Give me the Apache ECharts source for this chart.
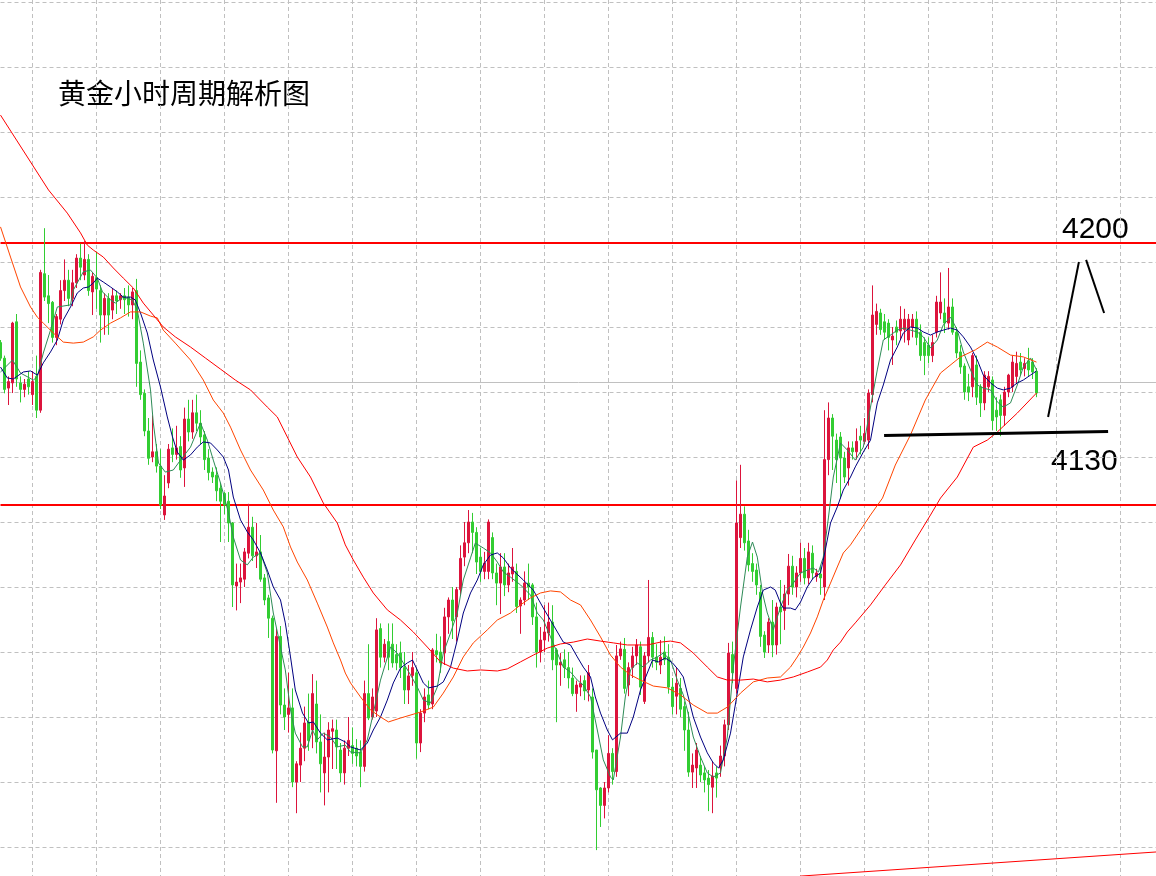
<!DOCTYPE html>
<html>
<head>
<meta charset="utf-8">
<style>
html, body { margin: 0; padding: 0; background: #fff; width: 1156px; height: 876px; overflow: hidden; position: relative; }
#chart { position: absolute; left: 0; top: -63px; width: 1160px; height: 975px; }
</style>
<script src="https://cdn.jsdelivr.net/npm/echarts@6/dist/echarts.min.js"></script>
</head>
<body>
<div id="chart"></div>
<script>
var title = '黄金小时周期解析图';
var slots = 290;

// hourly candles: [open, close, low, high]
var candles = [
  [4169,4163,4162,4170],[4163,4151,4149.5,4164],[4151.5,4154,4145,4156],[4153.5,4176.5,4149.6,4177],[4177,4155,4152,4180],
  [4153.5,4151,4146,4156],[4151,4153,4148,4155],[4155,4152,4149,4158],[4149,4154,4145,4158],[4156,4143,4140,4164],
  [4143,4196,4142,4197],[4195.5,4186.5,4185,4213],[4187,4184,4176.5,4195],[4184.5,4171,4169,4185],[4171,4179,4168,4180],
  [4178,4189,4176,4193],[4189,4193,4185,4201],[4193,4186,4183,4197],[4186,4192,4183,4197],[4192,4201.5,4190,4203],
  [4201.5,4198,4193,4207],[4195,4201,4193,4208],[4201,4189,4187,4203],[4188.5,4194.5,4179.6,4196],[4194,4189.6,4182,4204],
  [4189,4179.6,4169,4191],[4179.6,4186,4172,4188],[4186,4179.6,4172,4188],[4181.5,4187,4178,4190],[4187,4185,4180,4189],
  [4185.5,4187,4182,4188],[4187,4185.5,4180,4190],[4186.5,4183.5,4179,4191],[4183.5,4188.5,4178,4190],[4189,4161,4152,4193.5],
  [4161.5,4149,4147,4166],[4149.5,4135,4133,4151],[4135,4124.5,4122,4140],[4125,4127,4123,4141],[4127,4121.5,4119,4130],
  [4121.5,4106.5,4105,4128],[4102.7,4110,4100.8,4118],[4115,4128,4113,4130],[4128.5,4126,4123,4136],[4126,4128.5,4124,4137],
  [4129,4120,4117,4133],[4120.8,4139.6,4113.5,4144],[4139.6,4134.6,4131,4147],[4134.6,4142,4132,4147],[4142,4138,4135,4149],
  [4138,4132.7,4130,4143],[4133.5,4124,4120,4135],[4124.6,4119,4116,4128],[4119.2,4117.3,4115,4121],[4118,4112,4108,4121],
  [4113,4108,4092.3,4115],[4111,4106.5,4103,4111.5],[4108,4099.6,4092.3,4111.5],[4099.6,4075.8,4067.3,4100],[4075.4,4076.9,4066,4084],
  [4076.9,4078.5,4068.8,4084],[4078,4088.5,4075,4090],[4088,4098,4086,4107],[4098,4087,4085,4102],[4087,4088.5,4082.3,4099.6],
  [4088.5,4078,4077,4095],[4078.5,4070,4068,4080],[4070.8,4063,4055.4,4072],[4063,4012.3,4011,4064],[4012,4056,3992,4059],
  [4056,4029.6,4026,4060],[4029.6,4025,4020,4036],[4026,4028.5,4019,4042],[4028.5,4000,3998,4036],[4000,4007,3988,4008],
  [4006.5,4013,4000,4019],[4013,4022.7,4008,4029],[4023,4016,4012,4034],[4020,4034,4013,4041.5],[4030,4015.4,4011,4039],
  [4015.4,4007,3996,4026],[4003.5,4009.6,3991,4019],[4009.6,4020,3996,4023],[4019.5,4020.5,4005,4024],[4020,4013.5,4005,4024],
  [4012.3,4003.5,4000,4015],[4003.5,4013,3999,4016],[4013,4016,4010,4025],[4014,4011,4007,4021],[4013,4010,4006,4016.5],
  [4011.5,4006,3998,4016],[4006,4034,4004,4039],[4034,4024.6,4023.8,4053],[4025,4032.7,4024,4036],[4027.3,4058.5,4025,4063],
  [4059,4048,4044,4061],[4048,4053,4046,4055],[4054,4048,4043,4061],[4053,4045.8,4044,4061],[4049,4045.8,4043,4053],
  [4049.6,4044,4040,4054],[4044,4035.4,4030,4050],[4035.4,4040.8,4030,4045],[4041,4044,4037,4050],[4042,4015,4009,4044],
  [4015,4026.5,4011.5,4028],[4026.5,4032.7,4023,4036],[4033.5,4029.6,4028,4039],[4030,4050.8,4028,4051.5],[4050.5,4049,4046,4057],
  [4050,4045.8,4042,4056],[4049.6,4063.5,4045,4067],[4063.5,4070,4057,4071],[4070,4062,4055,4075],[4063.5,4074,4054,4075],
  [4074,4086,4072,4091],[4086.5,4092,4083,4100],[4092,4100,4088,4104.6],[4100,4096,4088,4103.5],[4096,4084.6,4080,4098],
  [4086.5,4081,4077,4090],[4081,4084.2,4078,4088.5],[4081,4100,4078,4101],[4094,4080.4,4078,4096],[4080.4,4076.5,4068,4084],
  [4076.5,4082.7,4064.6,4088],[4082.7,4075.8,4071.5,4088],[4075.8,4080.4,4073,4084],[4080,4082.7,4077,4090],[4081,4067.5,4065,4084],
  [4067.7,4070,4057,4071],[4070,4076.5,4068,4081],[4076.5,4075,4070,4084],[4075.8,4063.5,4060.4,4076.5],[4063.5,4050,4044,4069],
  [4050,4054.6,4046,4059.6],[4054.6,4057.7,4050,4068],[4057.3,4061.5,4054,4069],[4061.5,4047,4043,4068],[4050.8,4045,4023,4051.5],
  [4045,4046,4037,4049.6],[4047,4044,4040,4051],[4044,4040,4036,4050],[4040,4034,4033,4044],[4034,4037.3,4027,4039],
  [4036.5,4038,4033,4041],[4039,4035,4031.5,4041],[4035.4,4042,4031,4045],[4032.7,4011.5,4009,4036],[4012.3,3997,3973.8,4012.3],
  [3997.7,3991,3982.7,3998],[3991,3997.7,3986,4000],[3997.7,4011,3996,4018],[4011,4004,3999,4013],[4004,4048.5,4002,4052.7],
  [4048.5,4051.2,4047,4054],[4051,4036,4034,4055.4],[4037.3,4044,4033,4046],[4044,4048.5,4040,4052],[4048.5,4052.7,4045,4055],
  [4052,4036.5,4033.5,4054],[4031,4048.5,4030,4050],[4048.5,4055.6,4046,4077.7],[4055.6,4048,4044,4057.7],[4048,4046,4043,4053],
  [4045,4048,4041.5,4054.6],[4050,4047,4045,4056],[4048,4036.5,4034,4053],[4036.5,4029,4026,4040],[4033,4038,4026,4044],
  [4036,4028,4025,4040],[4029,4020,4012,4031],[4020,4003.8,4002,4027],[4003.8,4006.5,3997.7,4011],[4005.4,4012.3,3997.7,4015],
  [4006.5,4002.7,4000,4010],[4003.5,4000.8,3996,4006],[4001.5,3999,3988.8,4004.6],[3998,4002.3,3988,4008],[4003.5,4001.5,3994,4006],
  [4005.4,4010,4002,4014],[4010,4022,4006,4024],[4022,4049.6,4020,4053.5],[4049,4042,4038,4054],[4036,4099.6,4034,4116],
  [4094,4103,4090,4122],[4103,4092,4089,4106],[4092.7,4083.5,4081,4097],[4084,4081,4077,4088],[4081.5,4075.8,4072,4084],
  [4073,4056,4052,4075.8],[4056.5,4050,4047.7,4058],[4052.7,4061.5,4049.6,4063],[4061.5,4052.7,4048,4070],[4052.7,4067.3,4049,4069],
  [4067.3,4065.4,4053,4077.7],[4066,4072.3,4058.5,4075.8],[4072.3,4083,4068,4087.7],[4083,4075,4072,4087],[4075,4080.4,4071,4083],
  [4080.4,4086,4077,4092],[4086,4078.5,4076,4090],[4078.5,4088.5,4076,4092],[4088,4080.4,4078,4091],[4079,4080.4,4077,4082],
  [4080,4078.5,4072,4083],[4075,4124,4070,4143],[4124,4140,4118,4146],[4140,4133,4120,4141.5],[4131.5,4124,4115,4134],
  [4132.7,4124.6,4109,4134.6],[4124.6,4117.3,4115,4127],[4120.8,4128.5,4114,4131],[4128.5,4127,4124,4131],[4127,4131,4124,4136],
  [4133,4131.5,4126,4137],[4131,4134,4130,4140],[4131.5,4149.6,4128,4151],[4149,4179.6,4146,4191],[4176,4181,4172,4184],
  [4180.4,4174,4172,4182],[4177,4173,4170,4180],[4176.5,4171,4166,4178],[4170,4171.5,4160.4,4175],[4175,4173,4168,4177.5],
  [4173.5,4178,4170,4183],[4174,4178,4169,4182],[4170,4178,4168,4180],[4175,4178,4171,4180],[4178,4171,4168,4181],
  [4173,4164,4162,4176],[4169,4164,4156.5,4171],[4168,4164,4161,4171],[4164,4169,4161.5,4172],[4173,4184.6,4171,4187],
  [4180.4,4184.6,4178,4196],[4180.4,4176.5,4172.7,4186],[4176.5,4182.7,4174,4197.7],[4182.7,4173,4172,4186],[4173,4165,4163,4175],
  [4165.4,4159.6,4157,4168],[4160,4150,4147,4161],[4152,4150,4146.5,4157],[4152,4164,4148,4165],[4160.4,4148,4145,4164],
  [4152,4145.8,4140.4,4153],[4145.8,4156.5,4143,4158],[4152,4156,4150,4158],[4154.6,4139,4135.4,4156],[4143,4140.4,4135,4148],
  [4147,4141,4133,4149],[4141,4150,4137,4152],[4150,4156.5,4148,4157],[4152,4161.5,4150,4164],[4156,4161,4153,4165.5],
  [4161.5,4158.5,4156.5,4165],[4159,4161,4156,4163],[4162,4158.5,4156,4167],[4161.5,4157.7,4155,4163],[4158,4149.6,4148,4159.2]
];

// moving averages: [candle index, price]
var maFast = [
  [0,4157.7],[3,4162.3],[5,4157.3],[8.2,4154.6],[9.2,4155.8],[10.7,4165],[12.5,4173.8],[14.2,4182.7],[17.5,4183.5],[18.2,4189.2],
  [20.7,4196.2],[22.5,4196.9],[24.2,4193.8],[25.5,4188.5],[27.5,4185.4],[28.7,4184.2],[30.7,4186.5],[33,4185.4],[34.2,4181.5],[35.7,4168.8],
  [37.5,4150.8],[38.2,4138.1],[39.5,4122.7],[41.2,4119.2],[43.2,4120],[45,4123.8],[47.5,4128.8],[50,4138.1],[51.7,4131.5],[53.2,4123.8],
  [55,4115],[57,4103.5],[58.2,4094.2],[60,4085.4],[61.7,4083.5],[63.2,4086.5],[65,4088.1],[66.7,4080.4],[68.2,4065],[70,4051.9],
  [71.2,4043.1],[72.5,4027.7],[73.7,4018.8],[75.5,4013.5],[76.7,4013.5],[78,4020],[79.2,4016.2],[80.7,4018.8],[82.5,4017.3],[84.2,4013.5],
  [86.2,4014.2],[87.5,4011.5],[90,4011.2],[91.7,4016.2],[93.2,4026.5],[95,4039.2],[97.5,4051.9],[99.2,4049.6],[100.7,4045.8],[102.5,4041.2],
  [104.2,4036.5],[105.7,4031.5],[107.5,4030.4],[109.2,4036.5],[110.7,4049.6],[112.5,4057.3],[114.2,4065],[115.7,4077.7],[117.5,4086.2],[118.7,4091.9],
  [120.7,4090],[122.5,4088.1],[124.2,4084.6],[125.7,4080.8],[127.5,4078.8],[130,4075.8],[132.5,4071.9],[134.2,4065],[135.7,4062.3],[137.5,4055.8],
  [139.2,4049.6],[140.7,4044.2],[142.5,4042.3],[144.2,4039.2],[145.7,4037.3],[147.5,4032.7],[149.2,4020],[150.7,4008.5],[152.5,4001.9],[153.2,4000.8],
  [155,4017.3],[156.2,4032.7],[157.5,4043.1],[159.2,4045.8],[160.7,4044.2],[162.5,4046.9],[164.2,4048.1],[165.7,4049.6],[167.5,4046.9],[169.2,4039.2],
  [170.7,4033.5],[171.7,4027.7],[173.2,4017.3],[175,4009.6],[176.7,4003.5],[178.2,4001.9],[180,4003.5],[181.7,4017.3],[183.2,4044.2],[185,4067.3],
  [186.7,4086.5],[188,4092.3],[189.2,4086.5],[190.5,4072.7],[191.7,4065],[193.2,4058.5],[195,4067.3],[196.7,4073.8],[198.2,4076.5],[200,4080.4],
  [201.7,4081.5],[203.2,4082.3],[204.5,4080.8],[205.7,4086.5],[207,4101.9],[208.2,4117.3],[210,4130.4],[211.7,4127.7],[213.7,4123.8],[215.7,4128.8],
  [217.5,4144.2],[219.2,4158.5],[220.7,4170],[222.5,4171.9],[224.2,4173.8],[225.7,4174.6],[227.5,4173.8],[229.2,4173.1],[230.7,4171.2],[232.5,4166.9],
  [234.2,4170],[235.7,4175.8],[237.5,4178.8],[239.2,4173.8],[240.7,4165.4],[242.5,4158.5],[244.2,4152.7],[245.7,4151.5],[247.5,4150.8],[249.2,4146.2],
  [250.7,4144.2],[252.5,4145.8],[254.2,4152.7],[255.7,4159.6],[257.5,4163.1],[259,4158.5]
];
var maMid = [
  [0,4159.6],[1.7,4155.4],[3.2,4155],[5.7,4157.7],[7.5,4158.1],[9.2,4156.5],[10.7,4161.2],[12.5,4165.4],[14.2,4170],[15.7,4177.7],
  [17.5,4182.7],[19.2,4188.1],[20.7,4190],[22,4190.4],[23.2,4191.9],[24.2,4193.8],[25.7,4192.3],[27.5,4190.4],[29.2,4188.5],[30.7,4186.5],
  [32.5,4186.5],[33.7,4185.4],[35,4180.4],[36.7,4172.7],[38.2,4162.3],[40,4151.9],[41.7,4140.4],[43,4132.7],[44.2,4126.9],[45.7,4123.8],
  [47.5,4125.8],[49.2,4128.8],[50.7,4130.8],[52.5,4130.4],[54.2,4127.7],[55.7,4125],[57,4120],[58.2,4109.6],[60,4100.8],[61.7,4096.2],
  [63.2,4093.1],[65,4088.1],[66.7,4081.5],[68.2,4075],[70,4070],[71.2,4061.2],[72.5,4048.1],[73.7,4035.4],[75.5,4026.5],[77,4022.7],
  [78.2,4023.1],[80,4018.8],[81.7,4016.2],[84.2,4016.9],[86.2,4015.4],[87.5,4013.5],[90,4012.3],[91.7,4015],[93.2,4020],[95,4025],
  [96.7,4031.5],[98.2,4038.1],[100,4043.8],[101.7,4045.8],[103,4046.9],[104.2,4043.1],[105.7,4038.1],[107,4036.2],[109.2,4036.9],[110.7,4038.5],
  [112.5,4044.2],[114.2,4054.6],[115.7,4065],[117.5,4072.7],[119.2,4077.7],[120.7,4083.5],[122.5,4087.3],[124.2,4088.1],[125.7,4086.2],[127.5,4082.3],
  [130.7,4077.7],[133.2,4073.8],[135.7,4066.9],[138.2,4060.4],[140.7,4053.8],[142.5,4052.7],[144.2,4048.1],[145.7,4044.2],[147.5,4040.4],[148.7,4032.7],
  [150,4026.5],[151.7,4020],[153,4016.2],[155,4018.8],[156.7,4018.8],[158.2,4025],[160,4035.4],[161.7,4041.9],[163,4046.9],[164.5,4046.2],
  [166.2,4047.7],[168,4045.8],[169.5,4043.1],[170.7,4040.4],[171.7,4034.2],[173.2,4025],[175,4017.3],[176.7,4011.2],[178.2,4007.3],[179.5,4005.4],
  [180.7,4008.5],[182.5,4018.8],[184.2,4034.2],[185.7,4048.1],[187.5,4058.5],[189.2,4067.3],[190.7,4073.8],[192.5,4075],[193.7,4073.8],[195,4068.8],
  [195.7,4066.9],[197.5,4066.9],[198.7,4066.2],[200,4069.2],[201.7,4075],[203.2,4078.5],[205,4080.4],[206.2,4089.2],[207.5,4099.6],[209.2,4105.8],
  [210.7,4112.3],[212.5,4117.3],[213.7,4121.2],[215.7,4126.9],[217.5,4131.5],[219.2,4145.8],[220.7,4152.7],[222.5,4162.3],[224.2,4167.3],[225.7,4172.7],
  [227.5,4175],[229.2,4174.6],[230.7,4173.1],[232.5,4171.9],[234.2,4173.1],[235.7,4173.8],[237.5,4174.6],[239.2,4173.8],[240.7,4171.2],[242.5,4167.3],
  [244.2,4162.3],[245.7,4156.5],[247.5,4153.5],[249.2,4151.5],[250.7,4150.8],[252.5,4151.5],[254.2,4153.5],[255.7,4154.6],[257.5,4156.5],[259,4158.1]
];
var maSlow = [
  [0,4213.5],[2.5,4201.9],[5,4190.4],[7.5,4182.7],[9.2,4178.8],[10.7,4176.5],[13.2,4172.7],[15.7,4169.2],[18.2,4168.8],[20.7,4169.2],
  [23.2,4171.2],[25,4173.8],[27.5,4176.5],[30,4178.5],[32.5,4180.8],[35,4180.8],[37.5,4179.2],[39.2,4178.5],[40.7,4173.8],[42.5,4170.8],
  [43.7,4168.8],[47.5,4162.3],[50.7,4154.6],[53.2,4146.9],[55.7,4141.9],[57.5,4136.5],[60,4127.7],[62.5,4120],[65.7,4112.3],[68.2,4104.6],
  [70.7,4098.1],[72.5,4090.4],[74.2,4084.6],[76.7,4077.7],[79.2,4068.8],[81.7,4059.6],[83.2,4053.5],[85,4046.9],[86.2,4041.9],[87.5,4038.1],
  [90,4032.7],[92.5,4027.7],[95,4025],[97,4023.1],[100,4024.6],[105,4026.9],[108.2,4028.8],[110.7,4034.2],[113.2,4040.4],[115.7,4048.1],
  [118.2,4053.5],[121.7,4058.5],[124.2,4062.3],[127.5,4065],[130,4068.1],[132.5,4070.8],[135,4072.7],[137.5,4073.5],[140,4073.1],[142.5,4070],
  [145,4068.1],[147.5,4062.3],[150,4055.8],[152.5,4048.8],[155,4044.2],[157.5,4041.2],[160,4039.2],[163.2,4036.9],[166.7,4036.2],[170,4033.5],
  [173.2,4029.6],[176.7,4026.5],[179.2,4026.5],[181.7,4028.8],[185,4034.2],[188.2,4038.5],[191.7,4040],[195,4040.4],[197.5,4044.2],[199.2,4048.1],
  [200.7,4051.9],[202.5,4057.3],[204.2,4063.5],[205.7,4070],[207.5,4076.5],[209.2,4082.7],[210.7,4088.1],[212.5,4091.2],[215,4096.9],[217.5,4102.7],
  [220.5,4109.2],[223.7,4121.9],[227.5,4133.5],[231.2,4146.9],[235,4157.3],[240,4163.5],[243.7,4166.2],[246.7,4169.2],[249.2,4167.3],[252.5,4164.2],
  [255.7,4163.5],[259,4161.5]
];
var maLong = [
  [0,4256.5],[4,4246.9],[8,4237.3],[12,4227.7],[16.7,4218.8],[20,4211.2],[21.7,4206.5],[23.2,4204.6],[25.7,4201.9],[28.2,4197.7],
  [30.7,4193.8],[33.2,4190],[35.7,4184.2],[38.2,4179.6],[40.7,4175],[43.7,4171.2],[47.5,4167.3],[51.2,4163.1],[55,4158.8],[58.7,4154.6],
  [62.5,4150.8],[66.7,4144.2],[69.2,4140.4],[71.7,4132.7],[74.2,4125],[77.5,4117.3],[80.7,4107.3],[84.2,4099.6],[86.2,4091.2],[88.2,4085.4],
  [90.7,4078.8],[93.2,4072.7],[96.7,4066.2],[100,4062.3],[103.2,4057.7],[106.7,4051.9],[110,4046.2],[113.2,4043.8],[116.7,4042.7],[120,4043.1],
  [124.2,4042.7],[126.7,4043.5],[130,4046.2],[133.2,4048.8],[136.7,4051.5],[140,4053.1],[143.2,4053.8],[146.7,4055],[150,4054.2],[153.2,4053.5],
  [156.7,4052.7],[161.7,4052.7],[165,4053.8],[167.5,4054.2],[170,4053.5],[173.2,4049.6],[176.7,4044.2],[179.2,4040.4],[181.7,4039.2],[185,4039.2],
  [188.2,4039.6],[191.7,4038.5],[195,4039.2],[198.2,4040.4],[201.7,4042.3],[205,4044.2],[206.7,4046.9],[208.2,4050.8],[210,4053.8],[211.7,4057.7],
  [213.7,4061.2],[217.5,4068.1],[221.2,4075.8],[225,4083.5],[228.7,4093.1],[232.5,4102.7],[235,4109.2],[239.2,4117.3],[243.2,4128.8],[246.7,4131.5],
  [249.2,4134.6],[254.2,4141.9],[259,4149.6]
];

// horizontal levels and hand-drawn lines
var redLevels = [4207.31, 4106.54];
var lastPrice = 4153.65;
var supportLine = [[220.9, 4133.3], [276.9, 4134.8]];
var upLine = [[261.9, 4140.4], [269.6, 4200]];
var downLine = [[271.4, 4200.8], [275.9, 4180.4]];
var trendLine = [[199.9, 3963.8], [289, 3973.1]];
var levelLabels = ['4200', '4130'];

var categories = [];
for (var i = 0; i < slots; i++) categories.push(String(i));

// the chart div starts 63px above the page, so text tops are shifted by that
var shift = 63;

function seg(a, color, width) {
  return [{ coord: a[0], lineStyle: { color: color, width: width, type: 'solid' } }, { coord: a[1] }];
}

function maSeries(data, color) {
  return {
    type: 'line', xAxisIndex: 1, data: data, showSymbol: false, symbol: 'none',
    silent: true, z: 3, animation: false,
    lineStyle: { color: color, width: 1 }
  };
}

// a level drawn across the full width as its own flat line
function levelSeries(price, color, width) {
  return {
    type: 'line', xAxisIndex: 1, data: [[0, price], [slots - 1, price]],
    showSymbol: false, symbol: 'none', silent: true, z: 2, animation: false,
    lineStyle: { color: color, width: width }
  };
}

var myChart = echarts.init(document.getElementById('chart'));

var long = maSeries(maLong, '#ff0000');
long.markLine = {
  silent: true, symbol: ['none', 'none'], label: { show: false }, animation: false,
  data: [
    seg(supportLine, '#000', 3),
    seg(upLine, '#000', 2),
    seg(downLine, '#000', 2),
    seg(trendLine, '#ff0000', 1)
  ]
};

option = {
  backgroundColor: '#fff',
  animation: false,
  grid: { left: 0.5, right: 3.5, top: 0, bottom: 0 },
  xAxis: [
    {
      type: 'category', data: categories, boundaryGap: false,
      axisLine: { show: false }, axisTick: { show: false }, axisLabel: { show: false },
      splitLine: {
        show: true,
        interval: function (idx) { return idx % 16 === 8; },
        lineStyle: { color: '#c0c0c0', width: 1, type: [4, 3] }
      }
    },
    { type: 'value', min: 0, max: slots - 1, show: false }
  ],
  yAxis: {
    type: 'value', min: 3950, max: 4325, interval: 25,
    axisLine: { show: false }, axisTick: { show: false }, axisLabel: { show: false },
    splitLine: { lineStyle: { color: '#c0c0c0', width: 1, type: [4, 3] } }
  },
  graphic: [
    { type: 'text', left: 58, top: 79 + shift, style: { text: title, font: '28px "Noto Sans CJK SC"', fill: '#000' } },
    { type: 'text', left: 1062, top: 215 + shift, style: { text: levelLabels[0], font: '30px "Liberation Sans"', fill: '#000' } },
    { type: 'text', left: 1051, top: 447 + shift, style: { text: levelLabels[1], font: '30px "Liberation Sans"', fill: '#000' } }
  ],
  series: [
    levelSeries(lastPrice, '#c0c0c0', 1),
    levelSeries(redLevels[0], '#ff0000', 2),
    levelSeries(redLevels[1], '#ff0000', 2),
    {
      type: 'candlestick', data: candles, barWidth: 2, z: 2,
      itemStyle: {
        color: '#dc143c', color0: '#32cd32',
        borderColor: '#dc143c', borderColor0: '#32cd32', borderWidth: 1
      }
    },
    maSeries(maFast, '#2e8b57'),
    maSeries(maMid, '#000080'),
    maSeries(maSlow, '#ff4500'),
    long
  ]
};
myChart.setOption(option);
</script>
</body>
</html>
